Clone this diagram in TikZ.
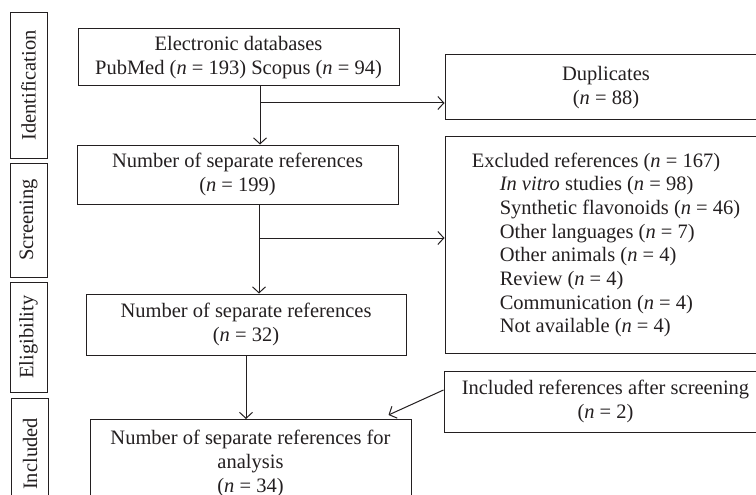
\documentclass[tikz,border=0pt]{standalone}
\usepackage{fontspec}
\setmainfont{Liberation Serif}
\usetikzlibrary{arrows.meta}
\definecolor{ink}{RGB}{35,31,32}
\begin{document}
\begin{tikzpicture}[x=1pt,y=-1pt,
  box/.style={draw=ink, line width=1pt, text=ink, align=center, inner sep=0pt,
    font=\fontsize{20.5}{23.7}\selectfont},
  side/.style={box, rotate=90, minimum height=37pt},
  conn/.style={draw=ink, line width=1pt, -{Straight Barb[length=6pt,width=13pt]}},
]
\useasboundingbox (0,0) rectangle (756,495);
\clip (0,0) rectangle (756,495);
% stage labels
\node[side, minimum width=145pt] (sid) at (28.5,85.5) {Identification};
\node[side, minimum width=114pt] (ssc) at (28.5,220) {Screening};
\node[side, minimum width=110pt] (sel) at (28.5,337) {Eligibility};
\node[side, minimum width=112pt] (sin) at (30,454) {Included};
% main boxes
\node[box, minimum width=321pt, minimum height=57pt] (db) at (238.5,57.5)
  {Electronic databases\\PubMed (\textit{n} = 193) Scopus (\textit{n} = 94)};
\node[box, minimum width=322pt, minimum height=65pt] (dup) at (606,87.5)
  {Duplicates\\(\textit{n} = 88)};
\node[box, minimum width=321pt, minimum height=59pt] (r1) at (237.5,174.5)
  {Number of separate references\\(\textit{n} = 199)};
\node[box, minimum width=322pt, minimum height=216pt, align=left] (exc) at (606,245)
  {Excluded references (\textit{n} = 167)\\
   \hspace*{28pt}\textit{In vitro} studies (\textit{n} = 98)\\
   \hspace*{28pt}Synthetic flavonoids (\textit{n} = 46)\\
   \hspace*{28pt}Other languages (\textit{n} = 7)\\
   \hspace*{28pt}Other animals (\textit{n} = 4)\\
   \hspace*{28pt}Review (\textit{n} = 4)\\
   \hspace*{28pt}Communication (\textit{n} = 4)\\
   \hspace*{28pt}Not available (\textit{n} = 4)};
\node[box, minimum width=320pt, minimum height=61pt] (r2) at (246,324.5)
  {Number of separate references\\(\textit{n} = 32)};
\node[box, minimum width=323pt, minimum height=61pt] (inc) at (605.5,401.5)
  {Included references after screening\\(\textit{n} = 2)};
\node[box, minimum width=321pt, minimum height=88pt, anchor=north] (r3) at (250.5,419)
  {Number of separate references for\\analysis\\(\textit{n} = 34)};
% connectors
\coordinate (j1) at (260,103);
\coordinate (j2) at (259,238);
\draw[conn] (j1 |- db.south) -- (j1 |- r1.north);
\draw[conn] (j1) -- (j1 -| dup.west);
\draw[conn] (j2 |- r1.south) -- (j2 |- r2.north);
\draw[conn] (j2) -- (j2 -| exc.west);
\draw[conn] (r2.south) -- (r2.south |- r3.north);
\draw[conn] ([yshift=11.5pt]inc.west) -- ([xshift=-23pt,yshift=4pt]r3.north east);
\end{tikzpicture}
\end{document}
